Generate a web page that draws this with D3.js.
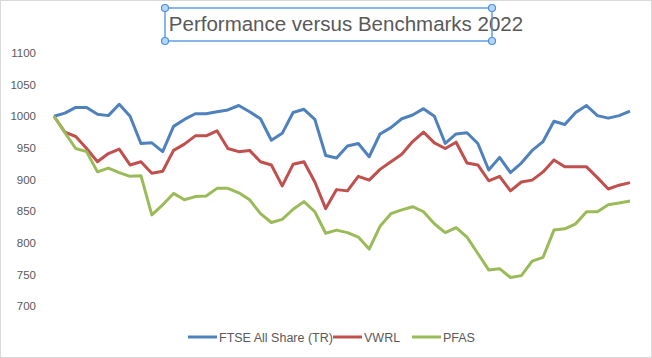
<!DOCTYPE html>
<html><head><meta charset="utf-8">
<script src="https://cdn.jsdelivr.net/npm/d3@7"></script>
<style>html,body{margin:0;padding:0;background:#fff;}svg{display:block;font-family:"Liberation Sans",Arial,Helvetica,sans-serif;}</style>
</head><body>
<svg id="c" width="652" height="358"></svg>
<script>
const title = "Performance versus Benchmarks 2022";
const weeks = d3.range(54); // week index 0..53
const yTicks = [700, 750, 800, 850, 900, 950, 1000, 1050, 1100];
const seriesNames = ["FTSE All Share (TR)", "VWRL", "PFAS"];
const ftse = [1000,1005,1014,1014,1003,1001,1019,1000,957,958,944,984,995,1004,1004,1007,1010,1017,1007,996,962,973,1006,1011,995,938,934,953,957,936,972,982,996,1002,1012,1000,957,972,974,957,915,935,911,926,946,960,992,987,1006,1017,1001,997,1001,1008];
const vwrl = [1000,975,968,949,928,941,948,923,928,910,913,946,956,969,969,977,949,944,946,928,923,890,924,928,896,854,884,882,905,899,916,928,940,960,975,958,949,959,926,923,898,905,882,896,899,912,931,920,920,920,903,885,891,895];
const pfas = [1000,974,949,944,912,918,911,905,906,844,860,878,868,873,874,886,886,879,868,846,832,837,853,865,849,815,820,816,809,790,826,846,852,857,849,830,816,824,809,783,757,759,745,748,771,777,820,822,830,849,849,860,863,866];
const colors = ["#4f81bd", "#c0504d", "#9bbb59"];

const svg = d3.select("#c");
svg.append("rect").attr("x",0.5).attr("y",0.5).attr("width",651).attr("height",357)
  .attr("fill","#fff").attr("stroke","#d9d9d9");

const x = d3.scaleLinear().domain([0, 53]).range([54, 630]);
const y = d3.scaleLinear().domain([700, 1100]).range([306, 53]);

// y axis labels
const yAxis = d3.axisLeft(y).tickValues(yTicks).tickSize(0).tickPadding(0).tickFormat(d3.format("d"));
const ga = svg.append("g").attr("transform","translate(36,0)").call(yAxis);
ga.select(".domain").remove();
ga.selectAll("text").attr("fill","#595959").style("font-size","11.5px").style("font-family","'Liberation Sans',Arial,sans-serif");

// lines
const data = [ftse, vwrl, pfas];
const line = d3.line().x((d,i)=>x(weeks[i])).y(d=>y(d));
data.forEach((s,k)=>{
  svg.append("path").datum(s).attr("d", line).attr("fill","none")
    .attr("stroke", colors[k]).attr("stroke-width", 3).attr("stroke-linejoin","round");
});

// title
svg.append("text").attr("x", 346).attr("y", 31).attr("text-anchor","middle")
  .attr("fill","#595959").style("font-size","20.5px").text(title);
// selection box
const bx=165, by=8, bw=327, bh=33;
svg.append("rect").attr("x",bx).attr("y",by).attr("width",bw).attr("height",bh)
  .attr("fill","none").attr("stroke","#4a90e2").attr("stroke-width",1.3);
[[bx,by],[bx+bw,by],[bx,by+bh],[bx+bw,by+bh]].forEach(p=>{
  svg.append("circle").attr("cx",p[0]).attr("cy",p[1]).attr("r",3.5)
    .attr("fill","#b8d6f7").attr("stroke","#4a90e2").attr("stroke-width",1.2);
});

// legend
const legX = [188, 333, 412];
const lg = svg.append("g");
seriesNames.forEach((n,k)=>{
  lg.append("line").attr("x1",legX[k]).attr("x2",legX[k]+29).attr("y1",337).attr("y2",337)
    .attr("stroke",colors[k]).attr("stroke-width",3);
  lg.append("text").attr("x",legX[k]+31).attr("y",341.5).attr("fill","#595959")
    .style("font-size","12.5px").text(n);
});
</script>
</body></html>
